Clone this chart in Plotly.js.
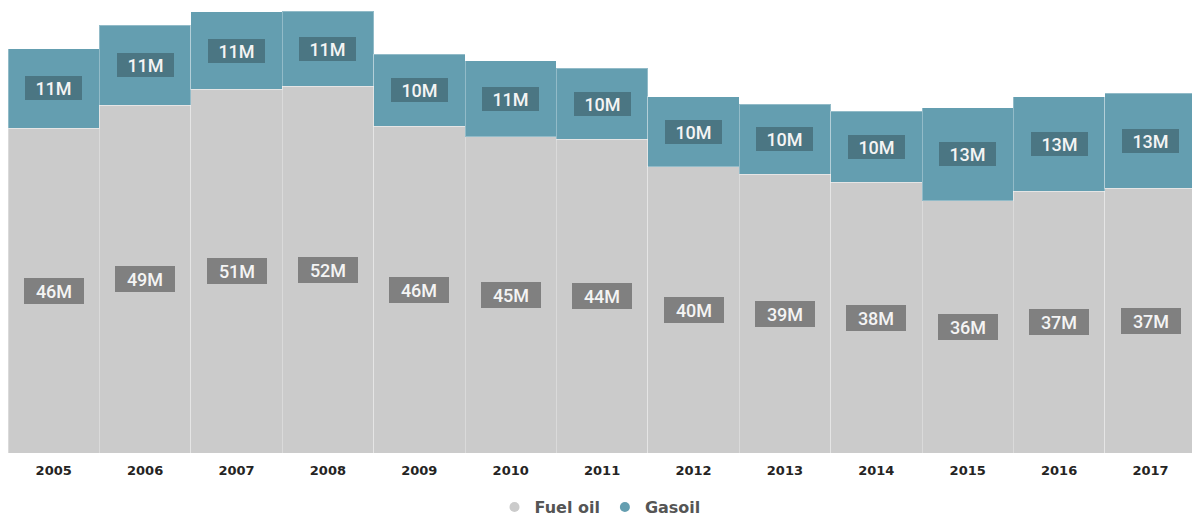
<!DOCTYPE html>
<html>
<head>
<meta charset="utf-8">
<script src="https://cdn.plot.ly/plotly-3.0.1.min.js"></script>
<style>
html,body{margin:0;padding:0;background:#fff;}
#chart{width:1192px;height:516px;}
</style>
</head>
<body>
<div id="chart"></div>
<script>
const years = ['2005','2006','2007','2008','2009','2010','2011','2012','2013','2014','2015','2016','2017'];
const fuelOil = [45.9, 49.15, 51.37, 51.84, 46.19, 44.68, 44.31, 40.44, 39.36, 38.23, 35.64, 37.0, 37.39];
const gasoil = [11.2, 11.26, 10.96, 10.6, 10.17, 10.73, 10.03, 9.89, 9.89, 10.07, 13.14, 13.32, 13.42];
const seriesNames = ['Fuel oil', 'Gasoil'];

const fuelColor = '#cbcbcb';
const gasColor = '#649eb0';

const traces = [
  {
    type: 'bar', name: seriesNames[0], x: years, y: fuelOil,
    marker: {color: fuelColor, line: {color: 'rgba(255,255,255,0.3)', width: 1}},
    showlegend: false, hoverinfo: 'x+y'
  },
  {
    type: 'bar', name: seriesNames[1], x: years, y: gasoil,
    marker: {color: gasColor, line: {color: 'rgba(255,255,255,0.3)', width: 1}},
    showlegend: false, hoverinfo: 'x+y'
  },
  {
    type: 'scatter', mode: 'markers', name: seriesNames[0], x: [null], y: [null],
    marker: {color: fuelColor, size: 10, symbol: 'circle'}, showlegend: true
  },
  {
    type: 'scatter', mode: 'markers', name: seriesNames[1], x: [null], y: [null],
    marker: {color: gasColor, size: 10, symbol: 'circle'}, showlegend: true
  }
];

const annotations = [];
years.forEach((yr, i) => {
  annotations.push({
    x: i, y: fuelOil[i] / 2, xref: 'x', yref: 'y',
    text: Math.round(fuelOil[i]) + 'M', showarrow: false,
    font: {family: 'Roboto, sans-serif', size: 18, color: '#f4f4f4', weight: 500},
    bgcolor: '#808080', borderpad: 3, borderwidth: 0,
    width: 54, height: 20
  });
  annotations.push({
    x: i, y: fuelOil[i] + gasoil[i] / 2, xref: 'x', yref: 'y',
    text: Math.round(gasoil[i]) + 'M', showarrow: false,
    font: {family: 'Roboto, sans-serif', size: 18, color: '#f4f4f4', weight: 500},
    bgcolor: '#4b7683', borderpad: 3, borderwidth: 0,
    width: 51, height: 18
  });
});

const layout = {
  width: 1192, height: 516,
  margin: {l: 8, r: 0, t: 0, b: 63},
  paper_bgcolor: '#ffffff', plot_bgcolor: '#ffffff',
  barmode: 'stack', bargap: 0,
  xaxis: {
    type: 'category', range: [-0.5, 12.454],
    showgrid: false, zeroline: false, showline: false,
    ticks: '', ticklabelstandoff: 8,
    tickfont: {family: '"DejaVu Sans", sans-serif', size: 13, color: '#252423', weight: 'bold'}
  },
  yaxis: {
    range: [0, 64], visible: false, showgrid: false, zeroline: false
  },
  showlegend: true,
  legend: {
    orientation: 'h', x: 0.5, xanchor: 'center', y: 0.0174, yanchor: 'middle',
    yref: 'container',
    font: {family: '"DejaVu Sans", sans-serif', size: 16, color: '#555555', weight: 'bold'},
    itemwidth: 30, traceorder: 'normal', bgcolor: 'rgba(0,0,0,0)'
  },
  annotations: annotations,
  font: {family: '"DejaVu Sans", sans-serif'}
};

Plotly.newPlot('chart', traces, layout, {displayModeBar: false, staticPlot: true});
</script>
</body>
</html>
